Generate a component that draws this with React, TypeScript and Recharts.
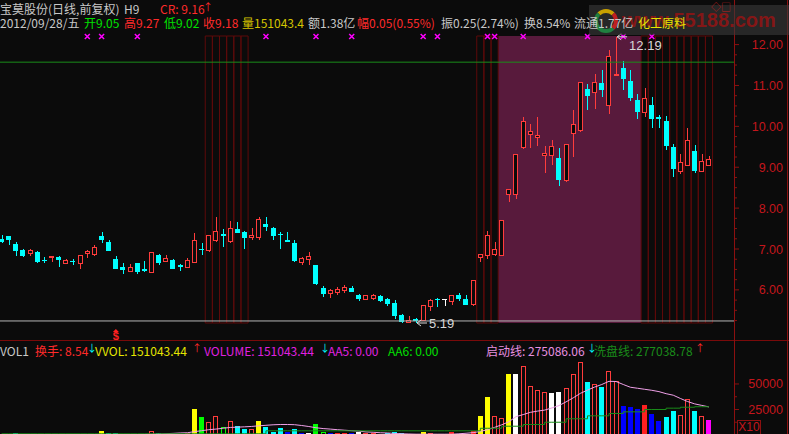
import React from "react";
import {
  ComposedChart,
  Bar,
  Line,
  Scatter,
  XAxis,
  YAxis,
  ReferenceLine,
  ReferenceArea,
} from "recharts";

// 宝莫股份 daily candles (前复权), last one is 2012/09/28
const opens = [
  7.25, 7.32, 7.13, 6.98, 6.88, 6.93, 6.74, 6.8, 6.81, 6.65,
  6.71, 6.65, 6.9, 6.86, 7.31, 7.16, 6.76, 6.56, 6.46, 6.65,
  6.52, 6.43, 6.86, 6.69, 6.74, 6.6, 6.55, 6.67, 7.01, 6.96,
  7.21, 7.36, 7.18, 7.49, 7.42, 7.28, 7.29, 7.62, 7.52, 7.37,
  7.23, 7.14, 6.66, 6.74, 6.61, 6.05, 5.91, 5.93, 5.98, 6.05,
  5.88, 5.77, 5.78, 5.86, 5.78, 5.69, 5.39, 5.21, 5.3, 5.26,
  5.59, 5.78, 5.78, 5.72, 5.88, 5.78, 5.64, 6.79, 6.84, 6.86,
  6.84, 8.33, 8.33, 9.48, 9.8, 9.73, 9.29, 9.29, 9.23, 8.67,
  9.83, 9.9, 10.91, 10.83, 11.06, 10.51, 11.26, 11.43, 11.11, 10.65,
  10.34, 10.52, 10.23, 10.13, 9.5, 8.89, 9.04, 9.39, 8.89, 9.05,
];
const highs = [
  7.35, 7.33, 7.18, 7.01, 7.01, 6.94, 6.81, 6.83, 6.83, 6.75,
  6.76, 6.84, 6.97, 7.09, 7.42, 7.23, 6.83, 6.66, 6.64, 6.66,
  6.71, 6.93, 6.87, 6.86, 6.75, 6.64, 6.78, 7.4, 7.15, 7.35,
  7.79, 7.49, 7.69, 7.67, 7.43, 7.52, 7.79, 7.79, 7.54, 7.41,
  7.41, 7.23, 6.81, 6.93, 6.62, 6.1, 6.03, 6.08, 6.13, 6.1,
  5.9, 5.88, 5.9, 5.88, 5.81, 5.76, 5.4, 5.36, 5.32, 5.62,
  5.78, 5.79, 5.78, 5.88, 5.93, 5.88, 6.23, 6.87, 7.45, 7.18,
  7.7, 8.47, 9.33, 10.22, 10.06, 10.22, 9.52, 9.67, 9.47, 9.57,
  10.4, 11.09, 11.03, 11.28, 11.38, 11.87, 12.19, 11.6, 11.38, 10.79,
  10.94, 10.72, 10.28, 10.26, 9.57, 9.33, 9.96, 9.55, 9.33, 9.27,
];
const lows = [
  7.14, 7.09, 6.84, 6.81, 6.82, 6.65, 6.65, 6.69, 6.57, 6.64,
  6.6, 6.52, 6.77, 6.83, 7.14, 6.95, 6.51, 6.38, 6.43, 6.4,
  6.43, 6.42, 6.62, 6.67, 6.5, 6.45, 6.54, 6.65, 6.86, 6.92,
  7.18, 7.04, 7.14, 7.38, 7.01, 7.21, 7.21, 7.43, 7.21, 6.99,
  7.16, 6.69, 6.6, 6.6, 6.11, 5.82, 5.81, 5.87, 5.93, 5.94,
  5.74, 5.76, 5.76, 5.71, 5.61, 5.29, 5.2, 5.2, 5.19, 5.25,
  5.49, 5.59, 5.61, 5.64, 5.74, 5.63, 5.6, 6.67, 6.76, 6.82,
  6.83, 8.14, 8.23, 9.44, 9.48, 9.51, 8.87, 9.05, 8.55, 8.65,
  9.24, 9.87, 10.4, 10.43, 10.73, 10.29, 11.25, 10.9, 10.63, 10.19,
  10.24, 9.95, 9.95, 9.41, 8.75, 8.84, 9.02, 8.87, 8.88, 9.02,
];
const closes = [
  7.17, 7.21, 6.96, 6.82, 6.96, 6.67, 6.7, 6.81, 6.72, 6.71,
  6.67, 6.83, 6.94, 7.03, 7.21, 6.96, 6.52, 6.48, 6.54, 6.43,
  6.47, 6.91, 6.65, 6.76, 6.52, 6.55, 6.73, 7.22, 6.98, 7.34,
  7.44, 7.32, 7.51, 7.4, 7.26, 7.33, 7.71, 7.55, 7.31, 7.34,
  7.18, 6.7, 6.76, 6.81, 6.15, 5.89, 5.99, 6.02, 6.07, 5.95,
  5.77, 5.87, 5.86, 5.73, 5.66, 5.37, 5.22, 5.26, 5.25, 5.61,
  5.73, 5.75, 5.78, 5.87, 5.77, 5.64, 6.22, 6.86, 7.32, 7.0,
  7.69, 8.46, 9.32, 10.13, 9.88, 9.78, 9.34, 9.51, 8.7, 9.56,
  10.05, 11.08, 10.75, 11.08, 10.9, 11.71, 11.28, 11.15, 10.7, 10.36,
  10.67, 10.17, 10.17, 9.51, 8.95, 9.12, 9.66, 8.92, 9.13, 9.18,
];

// volume in hands, axis shows it /10
const volumes = [
  12000, 8000, 15000, 10000, 9000, 14000, 7000, 6000, 9000, 6000,
  7000, 11000, 9000, 12000, 42000, 24000, 24000, 14000, 9000, 12000,
  8000, 42000, 24000, 10000, 12000, 8000, 15000, 250000, 181000, 132000,
  191000, 74000, 142000, 93000, 54000, 54000, 142000, 74000, 34000, 64000,
  34000, 54000, 18000, 18000, 103000, 34000, 20000, 22000, 22000, 20000,
  29000, 15000, 15000, 12000, 15000, 25000, 18000, 12000, 10000, 30000,
  15000, 14000, 10000, 30000, 12000, 12000, 37000, 186000, 372000, 186000,
  167000, 598000, 598000, 676000, 480000, 438000, 421000, 412000, 421000, 458000,
  598000, 715000, 519000, 500000, 473000, 627000, 529000, 287000, 274000, 258000,
  294000, 206000, 140000, 179000, 235000, 196000, 353000, 235000, 186000, 151043.44,
];
// bar colour codes: r red hollow, R red solid, c cyan, y yellow, w white,
// g green solid, G green hollow, b blue, m magenta
const volColors = (
  "ccccrccrcr" + "crrrycccrc" + "crcrccrygr" + "rGrccryccc" + "bcbwgGbRRb" +
  "wrrccccrcy" + "rcwRccRyyr" + "rywrrrrwwr" + "rrcrcrrbbb" + "Rbbccrrcrm"
).split("");
// 启动线
const startLine = [
  3000, 3000, 3000, 3000, 3000, 3000, 3000, 3000, 4000, 4000,
  4000, 4000, 4000, 5000, 5000, 5000, 5000, 5000, 5000, 5000,
  6000, 8000, 10000, 13000, 16000, 20000, 22000, 33000, 42000, 52000,
  58000, 66000, 74000, 77000, 80000, 84000, 90000, 95000, 100000, 103000,
  103000, 101000, 93000, 83000, 71000, 63000, 58000, 52000, 47000, 42000,
  38000, 30000, 27000, 22000, 20000, 15000, 12000, 10000, 8000, 8000,
  8000, 8000, 8000, 8000, 12000, 17000, 23000, 35000, 52000, 75000,
  100000, 130000, 180000, 200000, 222000, 234000, 244000, 265000, 288000, 325000,
  364000, 408000, 440000, 470000, 495000, 526000, 524000, 495000, 468000, 458000,
  448000, 438000, 425000, 405000, 390000, 358000, 328000, 305000, 290000, 275086.06,
];
// 洗盘线
const washLine = [
  12000, 12000, 12000, 12000, 12000, 12000, 12000, 12000, 12000, 12000,
  12000, 12000, 12000, 12000, 12000, 12000, 12000, 12000, 12000, 12000,
  12000, 12000, 12000, 12000, 12000, 12000, 12000, 12000, 12000, 12000,
  12000, 12000, 12000, 12000, 12000, 12000, 12000, 41000, 41000, 41000,
  41000, 41000, 41000, 41000, 41000, 41000, 41000, 41000, 41000, 41000,
  41000, 41000, 41000, 41000, 41000, 41000, 41000, 41000, 41000, 41000,
  41000, 41000, 41000, 41000, 41000, 41000, 41000, 66000, 66000, 66000,
  86000, 86000, 86000, 103000, 103000, 103000, 125000, 125000, 125000, 159000,
  159000, 159000, 188000, 188000, 188000, 211000, 211000, 227000, 227000, 227000,
  250000, 250000, 250000, 263000, 263000, 272000, 272000, 277038.78, 277038.78, 277038.78,
];

const crossDays = [12, 14, 19, 37, 44, 49, 59, 61, 68, 69, 73, 82, 87, 91];
const boxDays = [29, 30, 31, 32, 33, 34, 67, 68, 69, 90, 91, 92, 93, 94, 95, 96, 97, 98, 99];
const riseZone = [70, 89];
const signalDays = [16];
const supportPrice = 5.24;
const pressurePrice = 11.57;
const priceDomain = [5.19, 12.21];
const priceTicks = [
  5.25, 5.5, 5.75, 6, 6.25, 6.5, 6.75, 7, 7.25, 7.5, 7.75, 8, 8.25, 8.5,
  8.75, 9, 9.25, 9.5, 9.75, 10, 10.25, 10.5, 10.75, 11, 11.25, 11.5, 11.75, 12,
];
const volTicks = [125000, 250000, 375000, 500000];
const padDays = 3;

const FONT = '"Noto Sans CJK SC", "Liberation Sans", sans-serif';
const NUMFONT = '"Liberation Sans", Arial, sans-serif';
const GRAY = "#c8c8c8";
const RED = "#ff2a2a";
const GREEN = "#00e000";
const CYAN = "#00ffff";
const AXIS = "#8c1010";
const AXIS_TEXT = "#c4161c";

const n = opens.length;
const hiIdx = highs.indexOf(Math.max(...highs));
const loIdx = lows.indexOf(Math.min(...lows));

const priceRows = Array.from({length: n + padDays}, (_, i) =>
  i < n
    ? {
        i,
        range: [lows[i], highs[i]],
        o: opens[i],
        h: highs[i],
        l: lows[i],
        c: closes[i],
        cross: crossDays.includes(i) ? 12.2 : null,
        sig: signalDays.includes(i) ? lows[loIdx] : null,
        ext: i === hiIdx ? highs[i] : i === loIdx ? lows[i] : null,
      }
    : {i}
);

const volRows = Array.from({length: n + padDays}, (_, i) =>
  i < n ? {i, v: volumes[i], col: volColors[i], qd: startLine[i], xp: washLine[i]} : {i}
);

const Candle = (props: any) => {
  const {x, y, width, height, payload} = props;
  if (!payload || payload.o == null) return <g />;
  const {o, h, l, c} = payload;
  const k = height / (h - l || 1);
  const yOf = (p: number) => y + (h - p) * k;
  const up = c > o;
  const color = c === o ? "#ffffff" : up ? "#ff3c3c" : CYAN;
  const cx = Math.round(x + width / 2) + 0.5;
  const top = yOf(Math.max(o, c));
  const bh = Math.max(yOf(Math.min(o, c)) - top, 1);
  const bx = Math.round(x);
  return (
    <g shapeRendering="crispEdges">
      <line x1={cx} x2={cx} y1={y} y2={y + height} stroke={color} />
      {up ? (
        <rect x={bx + 0.5} y={top} width={4} height={bh} fill="#0b0b0b" stroke={color} />
      ) : (
        <rect x={bx} y={top} width={5} height={bh} fill={color} />
      )}
    </g>
  );
};

const VOLFILL: Record<string, string> = {
  r: "#ff3c3c", R: "#ff2020", c: CYAN, y: "#ffff00", w: "#ffffff",
  g: "#00ff00", G: "#00ff00", b: "#0000ff", m: "#ff00ff",
};

const VolBar = (props: any) => {
  const {x, y, width, height, payload} = props;
  if (!payload || payload.v == null) return <g />;
  const col = payload.col;
  const color = VOLFILL[col];
  const hollow = col === "r" || col === "G";
  const bx = Math.round(x);
  return hollow ? (
    <rect x={bx + 0.5} y={y + 0.5} width={4} height={Math.max(height, 1)} fill="none" stroke={color} shapeRendering="crispEdges" />
  ) : (
    <rect x={bx} y={y} width={5} height={Math.max(height, 1)} fill={color} shapeRendering="crispEdges" />
  );
};

const CrossMark = (props: any) => {
  const {cx, cy, payload} = props;
  if (!payload || payload.cross == null || cx == null || cy == null) return <g />;
  return (
    <path
      d={`M${cx - 2.5},${cy - 2.5}L${cx + 2.5},${cy + 2.5}M${cx + 2.5},${cy - 2.5}L${cx - 2.5},${cy + 2.5}`}
      stroke="#ff00ff"
      strokeWidth={1.5}
    />
  );
};

const ExtremeMark = (props: any) => {
  const {cx, cy, payload} = props;
  if (!payload || payload.ext == null || cx == null || cy == null) return <g />;
  const isHigh = payload.ext === payload.h;
  const ty = isHigh ? cy + 13 : cy + 5;
  return (
    <g>
      <path
        d={`M${cx + 1},${cy} l4,-3 M${cx + 1},${cy} l4,3 M${cx + 1},${cy} h10`}
        stroke="#d8d8d8"
        fill="none"
      />
      <text x={cx + 13} y={ty} fill="#d8d8d8" fontSize={13} fontFamily={NUMFONT}>
        {payload.ext.toFixed(2)}
      </text>
    </g>
  );
};

const SignalMark = (props: any) => {
  const {cx, cy, payload} = props;
  if (!payload || payload.sig == null || cx == null || cy == null) return <g />;
  return (
    <g fill="#ff2020">
      <path d={`M${cx - 3},${cy + 9}L${cx + 3},${cy + 9}L${cx},${cy + 6}Z`} />
      <text x={cx} y={cy + 17} textAnchor="middle" fontSize={11} fontWeight="bold" fontFamily={NUMFONT}>
        $
      </text>
    </g>
  );
};

const PriceTick = (props: any) => {
  const {x, y, payload} = props;
  const v = payload.value;
  const major = Math.abs(v - Math.round(v)) < 1e-6;
  return (
    <g>
      <line x1={x} x2={x + (major ? 5 : 3)} y1={y} y2={y} stroke={AXIS} />
      {major && (
        <text x={x + 49} y={y + 4.5} textAnchor="end" fill={AXIS_TEXT} fontSize={12.5} fontFamily={NUMFONT}>
          {v.toFixed(2)}
        </text>
      )}
    </g>
  );
};

const VolTick = (props: any) => {
  const {x, y, payload} = props;
  const v = payload.value;
  const major = v % 250000 === 0;
  return (
    <g>
      <line x1={x} x2={x + (major ? 5 : 3)} y1={y} y2={y} stroke={AXIS} />
      {major && (
        <text x={x + 49} y={y + 4.5} textAnchor="end" fill={AXIS_TEXT} fontSize={12.5} fontFamily={NUMFONT}>
          {v / 10}
        </text>
      )}
    </g>
  );
};

const T = ({x, y, c, size = 12, children}: any) => (
  <span
    style={{
      position: "absolute",
      left: x,
      top: y,
      color: c,
      fontSize: size,
      lineHeight: "14px",
      whiteSpace: "nowrap",
    }}
  >
    {children}
  </span>
);

export default function App() {
  const last = n - 1;
  const prev = closes[last - 1];
  const chg = closes[last] - prev;
  const amp = highs[last] - lows[last];
  return (
    <div
      style={{
        position: "absolute",
        left: 0,
        top: 0,
        width: 789,
        height: 434,
        background: "#0b0b0b",
        overflow: "hidden",
        fontFamily: FONT,
      }}
    >
      <div style={{position: "absolute", left: -2, top: 0}}>
        <ComposedChart width={790} height={341} data={priceRows} margin={{top: 36, right: 0, bottom: 18, left: 0}}>
          <XAxis dataKey="i" type="category" hide />
          <YAxis
            orientation="right"
            width={54}
            domain={priceDomain}
            ticks={priceTicks}
            interval={0}
            axisLine={false}
            tickLine={false}
            tickSize={0}
            tickMargin={0}
            tick={<PriceTick />}
          />
          <ReferenceArea x1={riseZone[0]} x2={riseZone[1]} fill="#581a3c" fillOpacity={1} stroke="none" />
          {boxDays.map((d) => (
            <ReferenceArea key={d} x1={d} x2={d} fill="none" stroke="#5e0a0a" strokeWidth={1} />
          ))}
          <ReferenceLine y={supportPrice} stroke="#b4b4b4" />
          <ReferenceLine y={pressurePrice} stroke="#1a8c1a" />
          <Bar dataKey="range" barSize={5} shape={<Candle />} isAnimationActive={false} />
          <Scatter dataKey="cross" shape={<CrossMark />} isAnimationActive={false} />
          <Scatter dataKey="ext" shape={<ExtremeMark />} isAnimationActive={false} />
          <Scatter dataKey="sig" shape={<SignalMark />} isAnimationActive={false} />
        </ComposedChart>
      </div>
      <div style={{position: "absolute", left: -2, top: 341}}>
        <ComposedChart width={790} height={94} data={volRows} margin={{top: 19, right: 0, bottom: 0, left: 0}}>
          <XAxis dataKey="i" type="category" hide />
          <YAxis
            orientation="right"
            width={54}
            domain={[0, 735000]}
            ticks={volTicks}
            interval={0}
            axisLine={false}
            tickLine={false}
            tickSize={0}
            tickMargin={0}
            tick={<VolTick />}
          />
          <Bar dataKey="v" barSize={5} shape={<VolBar />} isAnimationActive={false} />
          <Line dataKey="qd" stroke="#f0a0e8" dot={false} strokeWidth={1} isAnimationActive={false} />
          <Line type="stepAfter" dataKey="xp" stroke="#1a8c1a" dot={false} strokeWidth={1} isAnimationActive={false} />
        </ComposedChart>
      </div>

      {/* frame lines */}
      <div style={{position: "absolute", left: 0, top: 340, width: 789, height: 1, background: "#7a0a0a"}} />
      <div style={{position: "absolute", left: 734, top: 0, width: 1, height: 434, background: AXIS}} />
      <div style={{position: "absolute", left: 787, top: 0, width: 1, height: 434, background: AXIS}} />
      <div
        style={{
          position: "absolute",
          left: 737,
          top: 420,
          width: 22,
          height: 13,
          border: `1px solid ${AXIS}`,
          color: AXIS_TEXT,
          fontSize: 12,
          lineHeight: "13px",
          fontFamily: NUMFONT,
          textAlign: "center",
        }}
      >
        X10
      </div>

      {/* watermark */}
      <div style={{position: "absolute", left: 589, top: 5, width: 200, height: 30, background: "rgba(58,58,58,0.6)"}} />
      <div
        style={{
          position: "absolute",
          left: 594,
          top: 9,
          width: 16,
          height: 16,
          borderRadius: "50%",
          border: "4px solid",
          borderColor: "#c8a000 #c02020 #208040 #208040",
        }}
      />
      <div
        style={{
          position: "absolute",
          left: 622,
          top: 8,
          color: "rgba(150,20,20,0.85)",
          fontSize: 20,
          fontWeight: "bold",
          fontFamily: NUMFONT,
          lineHeight: "24px",
        }}
      >
        www.55188.com
      </div>
      <T x={711} y={0} c="#c02020" size={10}>◇□</T>

      {/* header */}
      <T x={0} y={2} c={GRAY}>宝莫股份(日线,前复权)</T>
      <T x={124} y={2} c={GRAY}>H9</T>
      <T x={160} y={2} c={RED}>CR: 9.16</T>
      <T x={203} y={0} c={RED} size={10}>↑</T>

      <T x={0} y={16} c={GRAY}>2012/09/28/五</T>
      <T x={84} y={16} c={GREEN}>开{opens[last].toFixed(2)}</T>
      <T x={124} y={16} c={RED}>高{highs[last].toFixed(2)}</T>
      <T x={164} y={16} c={GREEN}>低{lows[last].toFixed(2)}</T>
      <T x={203} y={16} c={RED}>收{closes[last].toFixed(2)}</T>
      <T x={242} y={16} c="#d4c400">量{volumes[last].toFixed(1)}</T>
      <T x={308} y={16} c={GRAY}>额1.38亿</T>
      <T x={357} y={16} c={RED}>
        幅{chg.toFixed(2)}({((chg / prev) * 100).toFixed(2)}%)
      </T>
      <T x={441} y={16} c={GRAY}>
        振{amp.toFixed(2)}({((amp / prev) * 100).toFixed(2)}%)
      </T>
      <T x={524} y={16} c={GRAY}>换8.54%</T>
      <T x={574} y={16} c={GRAY}>流通1.77亿</T>
      <T x={638} y={16} c="#e6e600">化工原料</T>

      {/* volume header */}
      <T x={0} y={344} c={GRAY}>VOL1</T>
      <T x={35} y={344} c={RED}>换手: 8.54</T>
      <T x={87} y={341} c={CYAN} size={10}>↓</T>
      <T x={95} y={344} c="#e6e600">VVOL: {volumes[last].toFixed(2)}</T>
      <T x={192} y={341} c={RED} size={10}>↑</T>
      <T x={204} y={344} c="#e020e0">VOLUME: {volumes[last].toFixed(2)}</T>
      <T x={320} y={341} c={CYAN} size={10}>↓</T>
      <T x={328} y={344} c="#e020e0">AA5: 0.00</T>
      <T x={388} y={344} c={GREEN}>AA6: 0.00</T>
      <T x={486} y={344} c="#e890e0">启动线: {startLine[last].toFixed(2)}</T>
      <T x={587} y={341} c={CYAN} size={10}>↓</T>
      <T x={594} y={344} c="#1a8c1a">洗盘线: {washLine[last].toFixed(2)}</T>
      <T x={695} y={341} c={RED} size={10}>↑</T>
    </div>
  );
}
